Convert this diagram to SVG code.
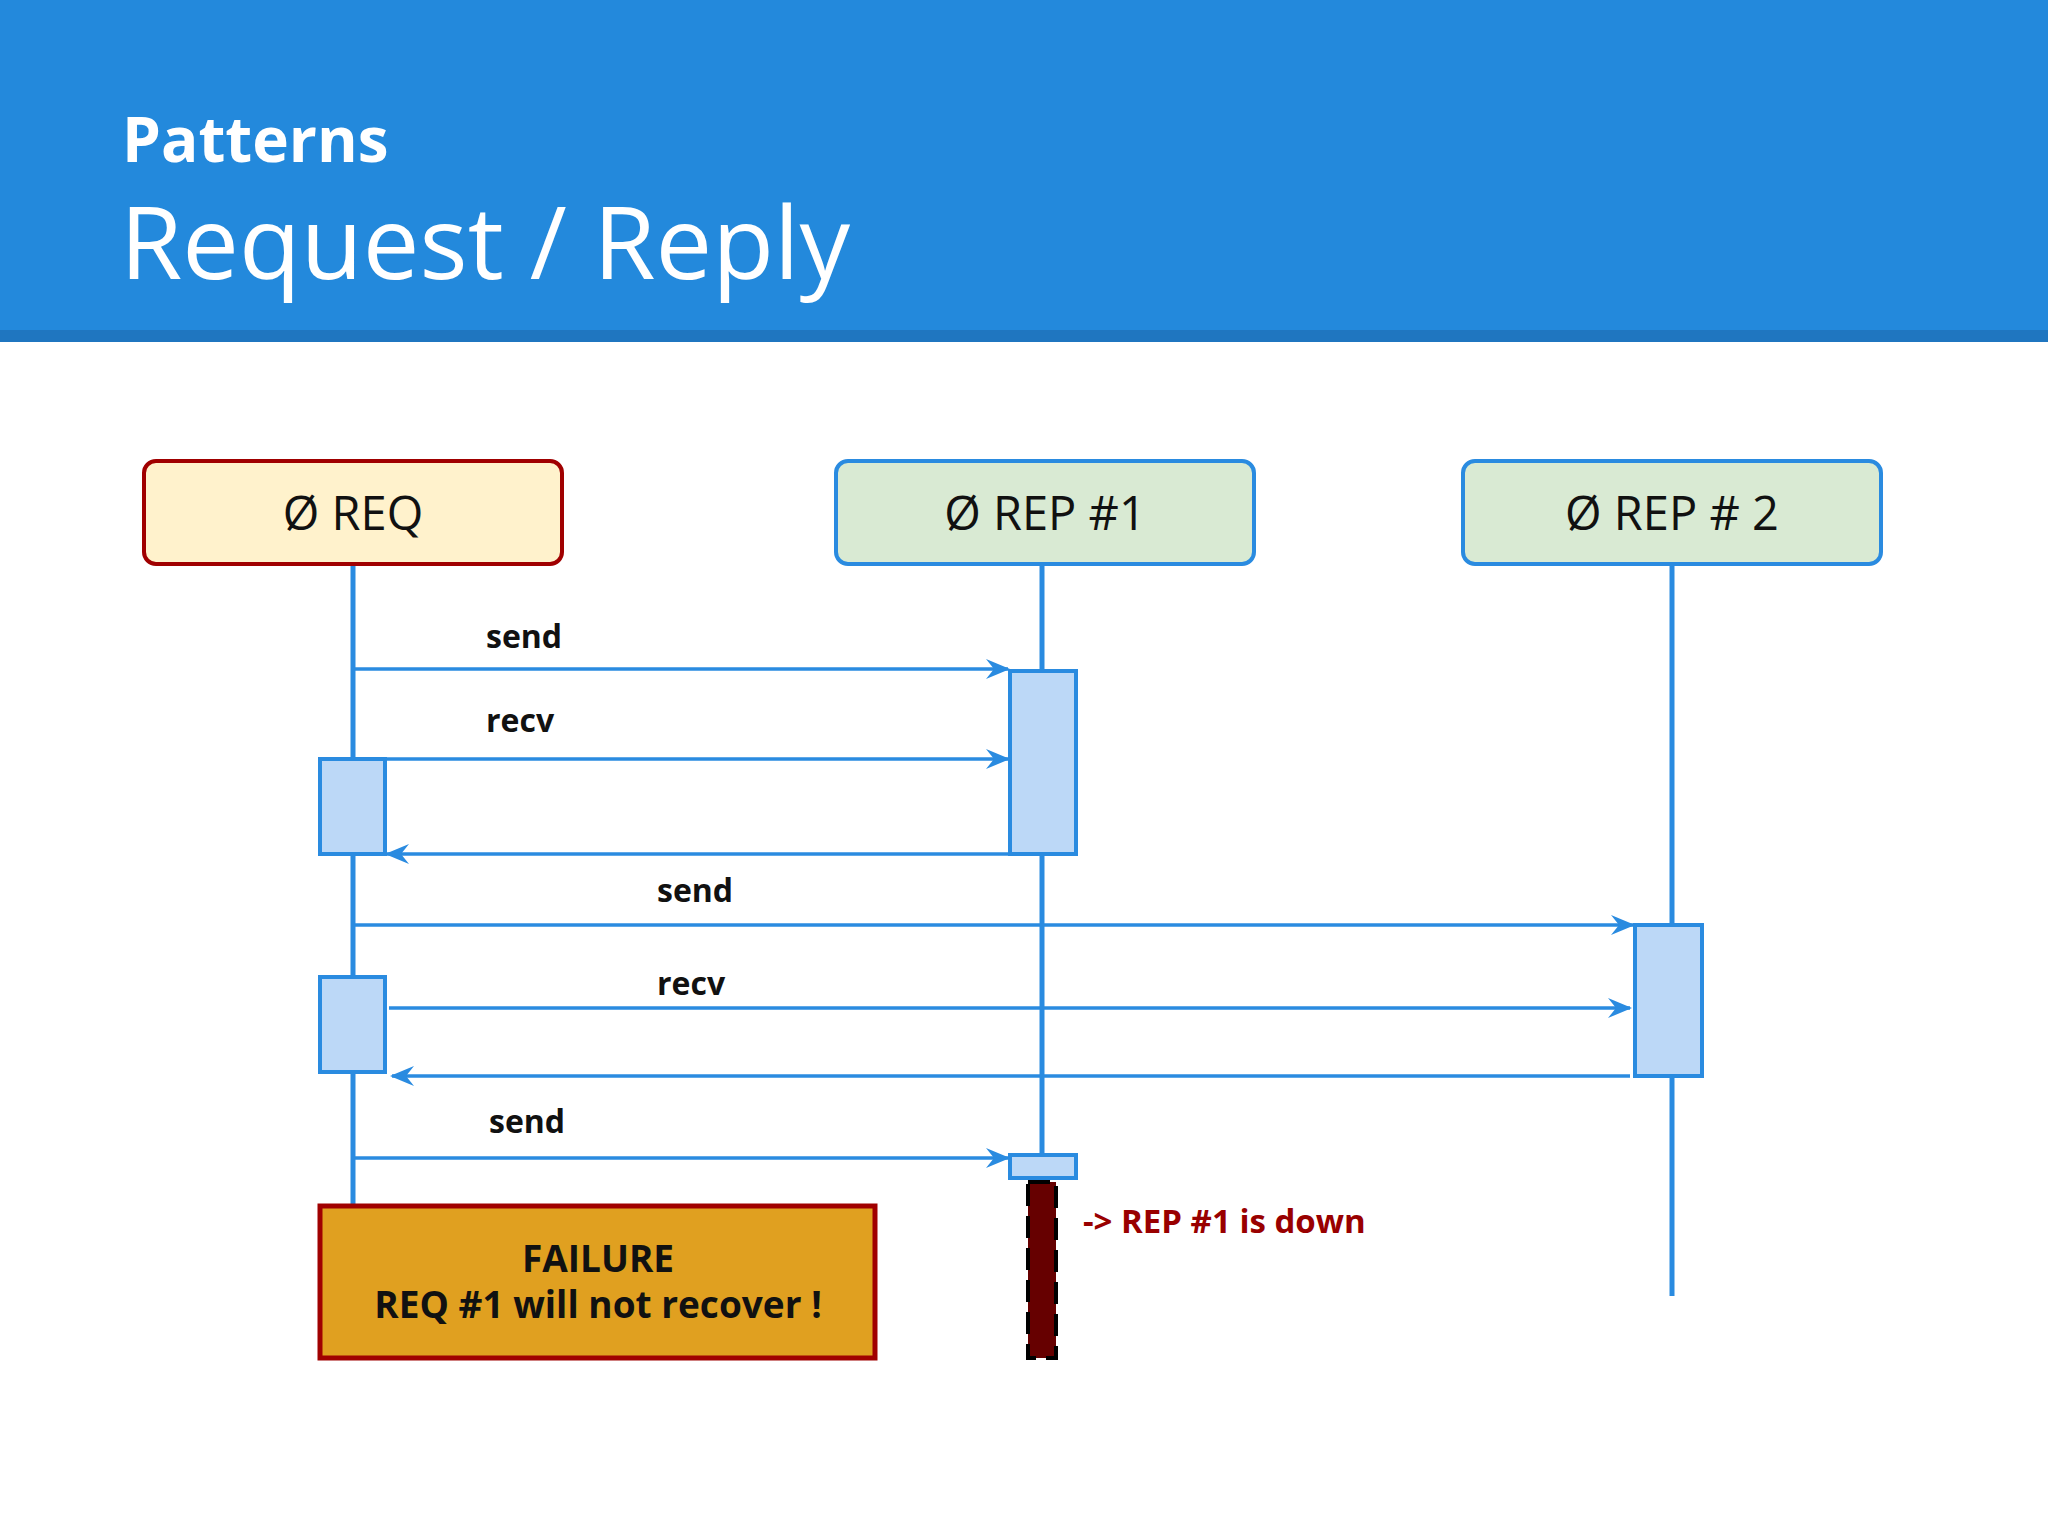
<svg xmlns="http://www.w3.org/2000/svg" width="2048" height="1536" viewBox="0 0 2048 1536">
<style>
.hd{fill:#fff;font-family:"Open Sans","Noto Sans",sans-serif}
.box{stroke-width:4}
.bt{font-family:"Open Sans","Noto Sans",sans-serif;font-size:47px;fill:#111;text-anchor:middle}
.ll{stroke:#2a8be0;stroke-width:5;fill:none}
.act{fill:#bcd8f7;stroke:#2a8be0;stroke-width:4}
.msg{stroke:#2a8be0;stroke-width:3.5;fill:none;marker-end:url(#ah)}
.lb{font-family:"Open Sans","Noto Sans",sans-serif;font-size:32px;font-weight:bold;fill:#111}
</style>
<defs>
<marker id="ah" viewBox="-30 -20 40 40" refX="0" refY="0" markerWidth="40" markerHeight="40" markerUnits="userSpaceOnUse" orient="auto" overflow="visible">
<path d="M-22,-10 L2,0 L-22,10 L-14,0 Z" fill="#2a8be0"/>
</marker>
</defs>
<rect width="2048" height="1536" fill="#fff"/>
<rect width="2048" height="332" fill="#2389dc"/>
<rect y="330" width="2048" height="12" fill="#1f76c0"/>
<text class="hd" x="122" y="162" font-size="62" font-weight="bold">Patterns</text>
<text class="hd" x="120" y="279" font-size="101">Request / Reply</text>

<g id="lifelines">
<line class="ll" x1="353" y1="564" x2="353" y2="1205"/>
<line class="ll" x1="1042" y1="564" x2="1042" y2="1156"/>
<line class="ll" x1="1672" y1="564" x2="1672" y2="1296"/>
</g>
<g id="req"><rect class="box" x="144" y="461" width="418" height="103" rx="12" fill="#fff2cc" stroke="#a00000"/><text class="bt" x="353" y="530">Ø REQ</text></g>
<g id="rep1"><rect class="box" x="836" y="461" width="418" height="103" rx="12" fill="#d9ead3" stroke="#2a8be0"/><text class="bt" x="1045" y="530">Ø REP #1</text></g>
<g id="rep2"><rect class="box" x="1463" y="461" width="418" height="103" rx="12" fill="#d9ead3" stroke="#2a8be0"/><text class="bt" x="1672" y="530">Ø REP # 2</text></g>

<g id="activations">
<rect class="act" x="1010" y="671" width="66" height="183"/>
<rect class="act" x="320" y="759" width="65" height="95"/>
<rect class="act" x="1635" y="925" width="67" height="151"/>
<rect class="act" x="320" y="977" width="65" height="95"/>
<rect class="act" x="1010" y="1155" width="66" height="23"/>
</g>
<g id="connectors">
<line class="msg" x1="355" y1="669" x2="1008" y2="669"/>
<line class="msg" x1="355" y1="759" x2="1008" y2="759"/>
<line class="msg" x1="1010" y1="854" x2="387" y2="854"/>
<line class="msg" x1="355" y1="925" x2="1633" y2="925"/>
<line class="msg" x1="389" y1="1008" x2="1630" y2="1008"/>
<line class="msg" x1="1630" y1="1076" x2="392" y2="1076"/>
<line class="msg" x1="355" y1="1158" x2="1008" y2="1158"/>
</g>
<g id="labels">
<text class="lb" x="486" y="648">send</text>
<text class="lb" x="486" y="732">recv</text>
<text class="lb" x="657" y="902">send</text>
<text class="lb" x="657" y="995">recv</text>
<text class="lb" x="489" y="1133">send</text>
</g>
<g id="down">
<rect x="1028" y="1182" width="28" height="176" fill="#660000" stroke="#000" stroke-width="4" stroke-dasharray="22,10"/>
<text x="1083" y="1233" font-family="Open Sans, Noto Sans, sans-serif" font-size="33" font-weight="bold" fill="#990000">-&gt; REP #1 is down</text>
</g>
<g id="failure">
<rect x="320" y="1206" width="555" height="152" fill="#e0a020" stroke="#a00000" stroke-width="5"/>
<text x="598" y="1272" text-anchor="middle" font-family="Open Sans, Noto Sans, sans-serif" font-size="37" font-weight="bold" fill="#111">FAILURE</text>
<text x="598" y="1318" text-anchor="middle" font-family="Open Sans, Noto Sans, sans-serif" font-size="37" font-weight="bold" fill="#111">REQ #1 will not recover !</text>
</g>
</svg>
